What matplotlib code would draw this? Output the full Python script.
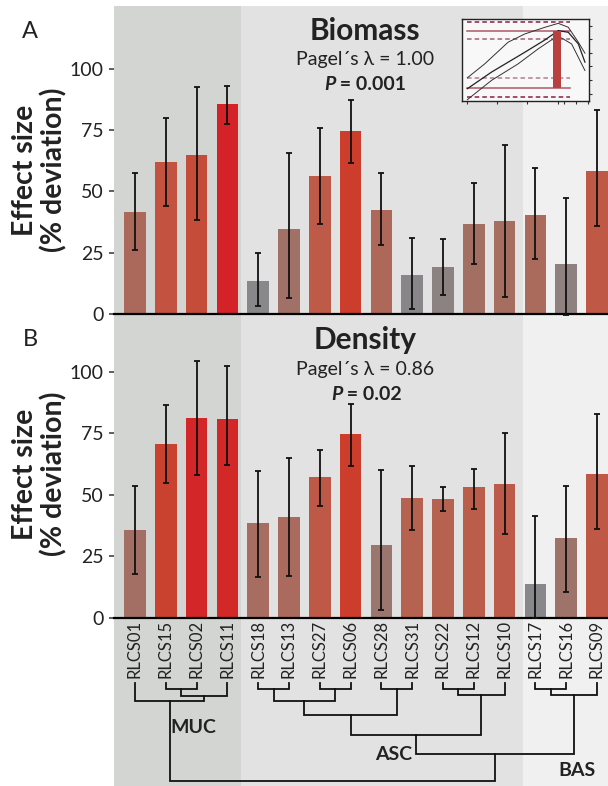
import numpy as np
import matplotlib.pyplot as plt
from matplotlib.colors import LinearSegmentedColormap, Normalize

plt.rcParams['font.family'] = ['Lato', 'DejaVu Sans']

# data
strains = ['RLCS01', 'RLCS15', 'RLCS02', 'RLCS11', 'RLCS18', 'RLCS13', 'RLCS27', 'RLCS06',
           'RLCS28', 'RLCS31', 'RLCS22', 'RLCS12', 'RLCS10', 'RLCS17', 'RLCS16', 'RLCS09']
biomass = [41.6, 62.0, 64.9, 85.7, 13.5, 34.7, 56.3, 74.7, 42.4, 15.9, 19.2, 36.7, 38.0, 40.4, 20.4, 58.4]
biomass_lo = [26.0, 44.0, 38.2, 77.4, 3.3, 6.5, 36.7, 61.6, 28.2, 1.9, 7.9, 20.5, 6.9, 22.3, -0.5, 35.8]
biomass_hi = [57.7, 79.9, 92.7, 93.2, 24.9, 65.7, 76.0, 87.2, 57.7, 31.1, 30.5, 53.5, 69.1, 59.5, 47.5, 83.1]
density = [35.6, 70.6, 81.2, 80.8, 38.5, 40.9, 57.2, 74.7, 29.6, 48.7, 48.3, 53.1, 54.3, 13.7, 32.4, 58.4]
density_lo = [17.9, 54.9, 58.0, 62.2, 16.7, 17.0, 45.4, 61.8, 3.3, 35.5, 43.4, 44.3, 33.9, 0.0, 10.3, 35.9]
density_hi = [53.7, 86.3, 104.5, 102.2, 59.5, 64.8, 68.2, 87.0, 60.0, 61.8, 53.3, 60.4, 75.0, 41.3, 53.7, 82.9]

# clades: (name, first index, last index)
clades = [('MUC', 0, 3), ('ASC', 4, 12), ('BAS', 13, 15)]

# tree merges: (child a, child b, height); leaves are 0..15, new nodes get 16, 17, ...
merges = [(1, 2, 6), (16, 3, 13), (0, 17, 18),
          (4, 5, 6), (6, 7, 6), (19, 20, 18), (8, 9, 6), (21, 22, 32),
          (10, 11, 6), (24, 12, 12), (23, 25, 52),
          (13, 14, 6), (27, 15, 12), (26, 28, 71), (18, 29, 98)]

# inset sketch
ins_mid_x = [0.42, 2.32, 4.95, 6.53, 7.58, 8.37, 9.16, 9.68]
ins_mid_y = [1.5, 3.52, 5.95, 7.45, 8.58, 8.38, 6.96, 4.74]
ins_up_x = [0.42, 1.79, 3.63, 4.95, 6.53, 7.58, 8.37, 9.16, 9.68]
ins_up_y = [2.83, 4.53, 7.17, 8.18, 8.99, 9.47, 8.99, 7.17, 5.83]
ins_lo_x = [0.42, 2.32, 4.42, 6.0, 7.05, 7.84, 8.63, 9.68]
ins_lo_y = [0.16, 2.51, 4.53, 6.36, 7.45, 7.69, 6.96, 3.72]

W, H = 608, 786
fig = plt.figure(figsize=(W / 100, H / 100), dpi=100)

x = np.arange(len(strains))
xlim = (-0.68, 15.36)
bounds = [xlim[0], 3.43, 12.59, xlim[1]]
bg_cols = ['#d3d5d2', '#e1e2e1', '#eff0ef']
txt = '#222222'

# background bands
bg = fig.add_axes([114 / W, 0, 494 / W, 780 / H])
bg.set_xlim(xlim)
bg.set_ylim(0, 1)
bg.axis('off')
for i in range(3):
    bg.axvspan(bounds[i], bounds[i + 1], color=bg_cols[i], lw=0)

cmap = LinearSegmentedColormap.from_list('gr', [
    (0.0, '#86888a'), (0.15, '#88878a'), (0.25, '#957b76'), (0.33, '#9f7268'),
    (0.40, '#a96b5e'), (0.50, '#b8604e'), (0.60, '#c15644'), (0.70, '#c9432f'),
    (0.77, '#cd3a2a'), (0.82, '#d32228'), (1.0, '#d42027')])
norm = Normalize(0, 100)


def panel(rect, top, vals, lo, hi):
    ax = fig.add_axes(rect)
    ax.set_facecolor('none')
    vals = np.array(vals)
    ax.bar(x, vals, width=0.7, color=cmap(norm(vals)), zorder=2)
    ax.errorbar(x, vals, yerr=[vals - np.array(lo), np.array(hi) - vals], fmt='none',
                ecolor='#111111', elinewidth=1.3, capsize=2.5, capthick=1.3, zorder=3,
                clip_on=False)
    ax.set_xlim(xlim)
    ax.set_ylim(0, top)
    ax.set_xticks([])
    ax.set_yticks([0, 25, 50, 75, 100])
    ax.tick_params(axis='y', length=3.5, width=1.2, color='#444444', labelsize=14,
                   labelcolor=txt, pad=4)
    for s in ['left', 'right', 'top']:
        ax.spines[s].set_visible(False)
    ax.spines['bottom'].set_linewidth(1.6)
    return ax


axA = panel([114 / W, (H - 314) / H, 494 / W, 308 / H], 308 / 2.45, biomass, biomass_lo, biomass_hi)
axB = panel([114 / W, (H - 617.7) / H, 494 / W, 307.7 / H], 307.7 / 2.46, density, density_lo, density_hi)

# titles
for ttl, lam, pv, ys, px in [('Biomass', 'Pagel\u00b4s \u03bb = 1.00', ' = 0.001', (31, 60, 84), 324),
                             ('Density', 'Pagel\u00b4s \u03bb = 0.86', ' = 0.02', (340, 370, 394), 331)]:
    fig.text(365 / W, 1 - ys[0] / H, ttl, ha='center', va='center', fontsize=21.5,
             fontweight='bold', color=txt)
    fig.text(365 / W, 1 - ys[1] / H, lam, ha='center', va='center', fontsize=14, color=txt)
    t1 = fig.text(px / W, 1 - ys[2] / H, 'P', ha='left', va='center', fontsize=14,
                  fontweight='bold', fontstyle='italic', color=txt)
    axA.annotate(pv, xy=(1, 0.5), xycoords=t1, ha='left', va='center', fontsize=14,
                 fontweight='bold', color=txt, annotation_clip=False)

# y labels and panel letters
for yc, letter, ly in [(170, 'A', 32), (474, 'B', 339)]:
    fig.text(40 / W, 1 - yc / H, 'Effect size\n(% deviation)', rotation=90, ha='center',
             va='center', fontsize=20.5, fontweight='bold', color=txt, linespacing=1.1)
    fig.text(30 / W, 1 - ly / H, letter, ha='center', va='center', fontsize=17, color=txt)

# dendrogram
dn = fig.add_axes([114 / W, 0, 494 / W, 168 / H])
dn.set_facecolor('none')
dn.set_xlim(xlim)
dn.set_ylim(103, -65)
dn.axis('off')
pos = {i: (float(i), 0.0) for i in range(len(strains))}
node = len(strains)
for a, b, h in merges:
    xa, ha_ = pos[a]
    xb, hb = pos[b]
    dn.plot([xa, xa, xb, xb], [ha_, h, h, hb], color='#111111', lw=1.3, solid_joinstyle='miter')
    pos[node] = ((xa + xb) / 2, h)
    node += 1
for i, s in enumerate(strains):
    dn.text(i, -5, s, rotation=90, ha='center', va='bottom', fontsize=12, color=txt)
for name, cx, cy in [('MUC', 1.9, 44.7), ('ASC', 8.41, 72), ('BAS', 14.35, 87)]:
    dn.text(cx, cy, name, ha='center', va='center', fontsize=14, fontweight='bold', color=txt)

# inset
ins = fig.add_axes([462 / W, 1 - 101 / H, 127 / W, 82 / H])
ins.set_facecolor('#f8f8f8')
ins.set_xlim(0, 10)
ins.set_ylim(0, 10)
for yv, col, ls in [(9.64, '#8b2040', (0, (3, 2))), (7.61, '#a0607a', (0, (3, 2))),
                    (2.79, '#b07f92', (0, (3, 2))), (0.49, '#8b2040', (0, (3, 2))),
                    (8.58, '#b05868', '-'), (1.58, '#b05868', '-')]:
    ins.plot([0.42, 8.5], [yv, yv], color=col, lw=1.1, ls=ls)
ins.bar(7.48, 8.58 - 1.58, bottom=1.58, width=0.61, color='#b94040', zorder=3)
ins.plot(ins_up_x, ins_up_y, color='#333333', lw=0.7)
ins.plot(ins_mid_x, ins_mid_y, color='#222222', lw=0.9)
ins.plot(ins_lo_x, ins_lo_y, color='#333333', lw=0.7)
ins.yaxis.tick_right()
ins.set_yticks([0.89, 2.51, 4.21, 5.83, 7.57, 9.19])
ins.set_xticks([0.42, 2.79, 5.13, 7.58, 8.05, 8.95, 9.89])
ins.set_yticklabels([])
ins.set_xticklabels([])
ins.tick_params(length=2.5, width=0.8, color='#333333')
for s in ins.spines.values():
    s.set_linewidth(1.0)
    s.set_color('#222222')

fig.savefig('out.png', dpi=100)
